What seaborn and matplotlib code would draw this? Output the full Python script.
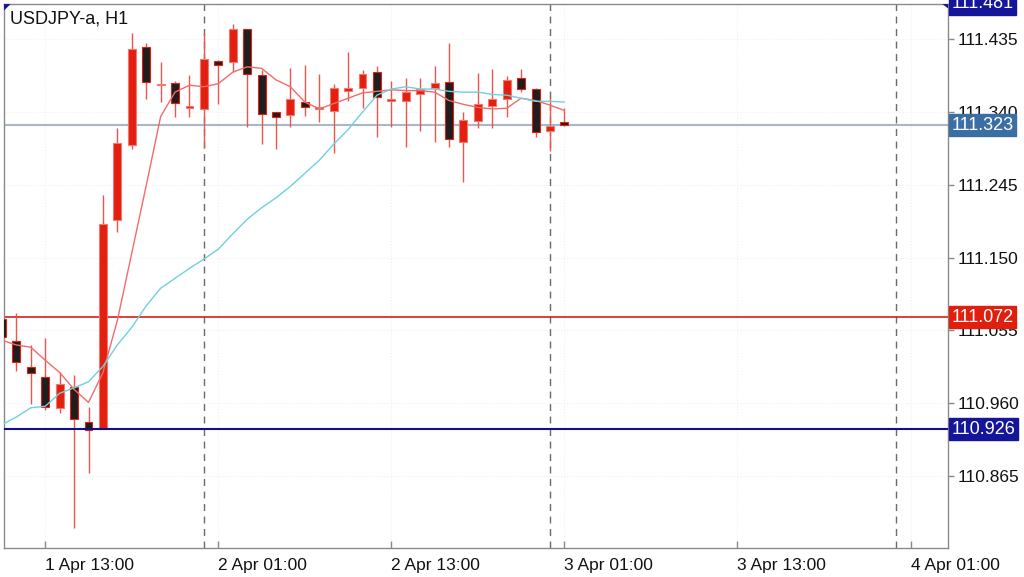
import numpy as np
import pandas as pd
import seaborn as sns
import matplotlib.pyplot as plt
from matplotlib.patches import Polygon
import matplotlib.transforms as mtransforms


# hourly candles, 1 Apr 10:00 .. 3 Apr 01:00
opens = [111.070, 111.041, 111.007, 110.994, 110.954, 110.981, 110.935, 110.926, 111.199, 111.297,
         111.425, 111.375, 111.378, 111.345, 111.344, 111.406, 111.405, 111.448, 111.388, 111.340,
         111.336, 111.353, 111.344, 111.342, 111.368, 111.372, 111.392, 111.355, 111.354, 111.363,
         111.371, 111.379, 111.301, 111.328, 111.348, 111.357, 111.385, 111.370, 111.315, 111.327]
highs = [111.075, 111.078, 111.036, 111.045, 111.001, 110.997, 110.955, 111.232, 111.319, 111.443,
         111.430, 111.405, 111.380, 111.388, 111.443, 111.408, 111.455, 111.448, 111.395, 111.340,
         111.398, 111.401, 111.389, 111.376, 111.419, 111.395, 111.400, 111.380, 111.385, 111.384,
         111.400, 111.430, 111.340, 111.391, 111.396, 111.387, 111.396, 111.371, 111.359, 111.345]
lows = [111.040, 111.002, 110.959, 110.951, 110.947, 110.797, 110.869, 110.926, 111.183, 111.292,
        111.357, 111.353, 111.333, 111.333, 111.293, 111.350, 111.392, 111.320, 111.298, 111.292,
        111.320, 111.335, 111.327, 111.286, 111.355, 111.345, 111.308, 111.320, 111.294, 111.315,
        111.301, 111.294, 111.249, 111.319, 111.319, 111.333, 111.366, 111.307, 111.289, 111.322]
closes = [111.046, 111.014, 110.999, 110.955, 110.985, 110.939, 110.925, 111.194, 111.299, 111.422,
          111.379, 111.376, 111.352, 111.348, 111.409, 111.402, 111.449, 111.389, 111.338, 111.333,
          111.357, 111.346, 111.346, 111.372, 111.371, 111.389, 111.359, 111.356, 111.366, 111.370,
          111.378, 111.305, 111.329, 111.350, 111.357, 111.382, 111.370, 111.314, 111.322, 111.323]

# moving average lines
ma_fast = [111.042, 111.036, 111.033, 111.016, 111.000, 110.978, 110.961, 111.000, 111.068, 111.156,
           111.244, 111.334, 111.366, 111.375, 111.373, 111.377, 111.392, 111.399, 111.397, 111.382,
           111.373, 111.353, 111.344, 111.351, 111.358, 111.365, 111.367, 111.369, 111.368, 111.368,
           111.366, 111.355, 111.350, 111.346, 111.344, 111.345, 111.358, 111.355, 111.349, 111.342]
ma_slow = [110.932, 110.942, 110.954, 110.956, 110.973, 110.980, 110.988, 111.008, 111.036, 111.059,
           111.087, 111.110, 111.123, 111.136, 111.148, 111.161, 111.181, 111.200, 111.215, 111.228,
           111.243, 111.260, 111.277, 111.298, 111.317, 111.340, 111.362, 111.370, 111.373, 111.370,
           111.370, 111.367, 111.366, 111.366, 111.363, 111.362, 111.358, 111.354, 111.354, 111.353]

x_tick_pos = [3, 15, 27, 39, 51, 63]
x_tick_labels = ["1 Apr 13:00", "2 Apr 01:00", "2 Apr 13:00", "3 Apr 01:00", "3 Apr 13:00", "4 Apr 01:00"]
day_breaks = [14, 38, 62]
y_ticks = [111.435, 111.340, 111.245, 111.150, 111.055, 110.960, 110.865]

# price lines: (value, colour)
price_lines = [(111.481, "#15159a"), (111.323, "#3b6ea3"), (111.072, "#e0200f"), (110.926, "#15159a")]


def draw_candles(ax, df):
    up = df["close"] >= df["open"]
    ax.vlines(df["idx"], df["low"], df["high"], color="#ee5548", lw=1.0, zorder=2)
    body = (df["close"] - df["open"]).abs().clip(lower=0.002)
    bottom = df[["open", "close"]].min(axis=1)
    ax.bar(df["idx"][up], body[up], bottom=bottom[up], width=0.55,
           color="#e3200f", edgecolor="#f07a70", linewidth=0.8, zorder=3)
    ax.bar(df["idx"][~up], body[~up], bottom=bottom[~up], width=0.55,
           color="#1e1e1e", edgecolor="#e3200f", linewidth=0.8, zorder=3)


def main():
    df = pd.DataFrame({"idx": np.arange(len(opens)), "open": opens, "high": highs,
                       "low": lows, "close": closes, "ma_fast": ma_fast, "ma_slow": ma_slow})

    sns.set_theme(style="white")
    plt.rcParams["font.family"] = ["Liberation Sans", "DejaVu Sans"]

    fig = plt.figure(figsize=(10.24, 5.77), dpi=100)
    ax = fig.add_axes([4 / 1024, 1 - 548 / 577, 944 / 1024, 544 / 577])

    ax.grid(True, color="#f0f0f0", linestyle=":", linewidth=0.8)
    for d in day_breaks:
        ax.axvline(d, color="#6a6a6a", linestyle=(0, (5, 4)), linewidth=1.0, zorder=1.5)

    ax.axhline(111.323, color="#a8b8cc", linewidth=1.5, zorder=1.6)
    ax.axhline(111.072, color="#d42018", linewidth=1.2, zorder=1.6)
    ax.axhline(110.926, color="#10108a", linewidth=1.5, zorder=4)

    draw_candles(ax, df)
    sns.lineplot(data=df, x="idx", y="ma_fast", color="#f46a6a", linewidth=1.0, ax=ax, zorder=4)
    sns.lineplot(data=df, x="idx", y="ma_slow", color="#6fd0e0", linewidth=1.0, ax=ax, zorder=4)

    ax.set_xlim(0.139, 65.6)
    ax.set_ylim(110.771, 111.481)
    ax.set_xlabel("")
    ax.set_ylabel("")

    ax.yaxis.tick_right()
    ax.set_yticks(y_ticks)
    ax.set_yticklabels([f"{v:.3f}" for v in y_ticks])
    ax.tick_params(axis="y", which="both", right=True, length=4, width=1, color="#888888",
                   pad=3, labelsize=12.5, labelcolor="#111111")
    ax.set_xticks(x_tick_pos)
    ax.set_xticklabels(x_tick_labels, ha="left")
    ax.tick_params(axis="x", bottom=True, direction="in", length=5, width=1, color="#888888",
                   pad=7, labelsize=12.5, labelcolor="#111111")

    for s in ax.spines.values():
        s.set_color("#8a8a8a")
        s.set_linewidth(1.0)

    ax.text(0.006, 0.988, "USDJPY-a, H1", transform=ax.transAxes, ha="left", va="top",
            fontsize=13, color="#111111", zorder=6)

    # price tags on the right
    trans = mtransforms.blended_transform_factory(ax.transAxes, ax.transData)
    for val, col in price_lines:
        ax.text(1.004, val, f"{val:.3f}", transform=trans, ha="left", va="center",
                fontsize=13, color="white", clip_on=False, zorder=10,
                bbox=dict(boxstyle="square,pad=0.14", fc=col, ec=col))

    # small corner markers
    ax.add_patch(Polygon([[0, 1], [0.007, 1], [0, 1 - 0.012]], closed=True, transform=ax.transAxes,
                         fc="#15159a", ec="none", clip_on=False, zorder=7))
    ax.add_patch(Polygon([[1, 1], [0.994, 1], [1, 1 - 0.008]], closed=True, transform=ax.transAxes,
                         fc="#15159a", ec="none", clip_on=False, zorder=7))

    fig.savefig("out.png", dpi=100, facecolor="white")


if __name__ == "__main__":
    main()
